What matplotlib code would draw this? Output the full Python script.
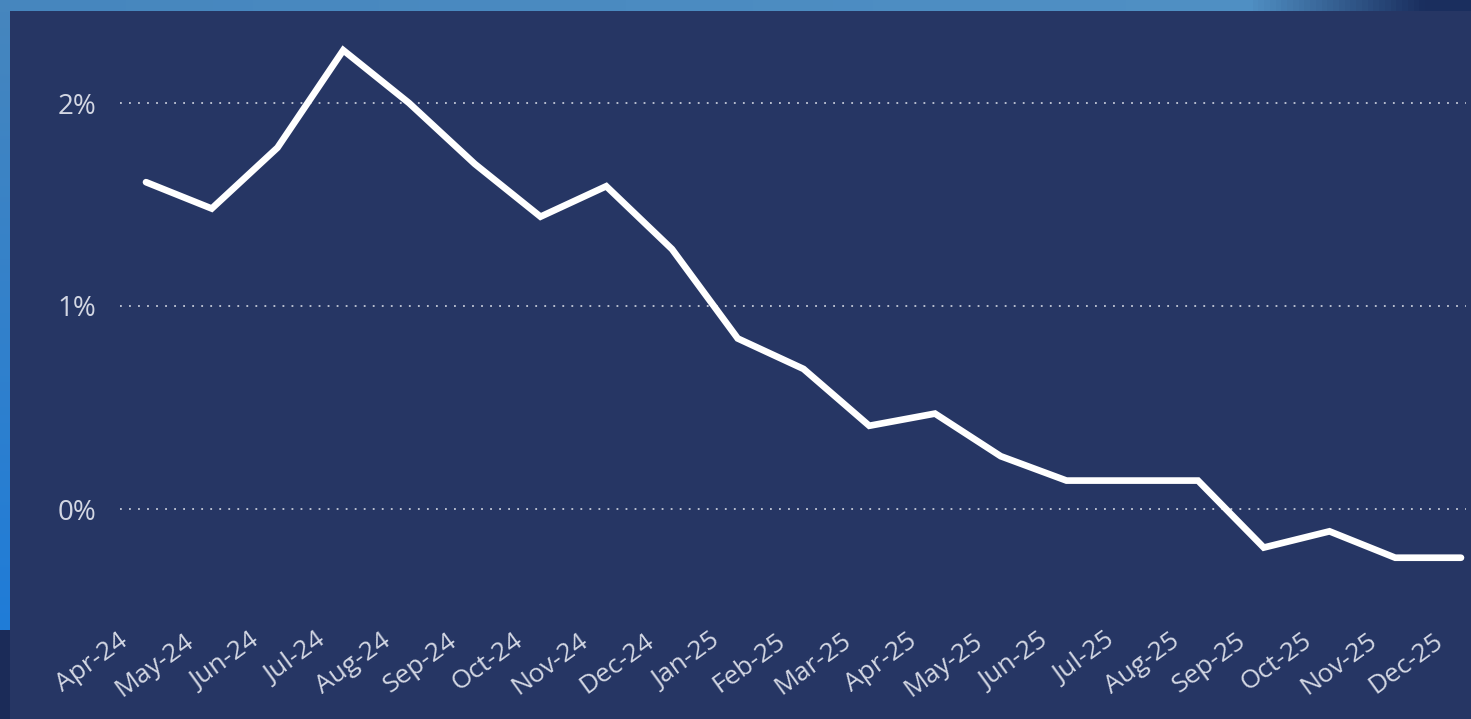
import matplotlib
matplotlib.use("agg")
import matplotlib.pyplot as plt
import matplotlib.transforms as mtransforms
import numpy as np

# monthly values (%)
months = ["Apr-24", "May-24", "Jun-24", "Jul-24", "Aug-24", "Sep-24", "Oct-24",
          "Nov-24", "Dec-24", "Jan-25", "Feb-25", "Mar-25", "Apr-25", "May-25",
          "Jun-25", "Jul-25", "Aug-25", "Sep-25", "Oct-25", "Nov-25", "Dec-25"]
values = [1.61, 1.48, 1.78, 2.26, 2.00, 1.70, 1.44, 1.59, 1.28, 0.84, 0.69,
          0.41, 0.47, 0.26, 0.14, 0.14, 0.14, -0.19, -0.11, -0.24, -0.24]
ytick_vals = [0, 1, 2]
ytick_labels = ["0%", "1%", "2%"]

W, H = 1471, 719
dpi = 100
panel = "#263664"
txt = "#d3d7e3"

fig = plt.figure(figsize=(W / dpi, H / dpi), dpi=dpi)
fig.patch.set_facecolor(panel)

# background strips (top and left) with gradients
bg = fig.add_axes([0, 0, 1, 1], zorder=-1)
bg.set_xlim(0, W)
bg.set_ylim(H, 0)
bg.axis("off")
top = np.zeros((1, 256, 3))
c1 = np.array([0x46, 0x86, 0xbe]) / 255
c2 = np.array([0x50, 0x90, 0xc4]) / 255
c3 = np.array([0x1a, 0x2e, 0x5e]) / 255
t = np.linspace(0, 1, 256)
for i, tv in enumerate(t):
    if tv < 0.85:
        top[0, i] = c1 + (c2 - c1) * tv / 0.85
    else:
        top[0, i] = c2 + (c3 - c2) * min((tv - 0.85) / 0.12, 1)
bg.imshow(top, extent=[0, W, 11, 0], aspect="auto")
left = np.zeros((256, 1, 3))
l1 = np.array([0x46, 0x86, 0xbe]) / 255
l2 = np.array([0x1f, 0x7c, 0xd8]) / 255
for i, tv in enumerate(np.linspace(0, 1, 256)):
    left[i, 0] = l1 + (l2 - l1) * tv
bg.imshow(left, extent=[0, 10, 630, 11], aspect="auto")
bg.add_patch(plt.Rectangle((0, 630), 10, H - 630, color="#1b2b58", lw=0))
bg.add_patch(plt.Rectangle((10, 11), W - 10, H - 11, color=panel, lw=0))

# main axes: left 120px, right 1466px, top 11px, bottom 570px
ax_l, ax_r, ax_t, ax_b = 120, 1466, 11, 570
ax = fig.add_axes([ax_l / W, 1 - ax_b / H, (ax_r - ax_l) / W, (ax_b - ax_t) / H])
ax.set_facecolor("none")

x = np.arange(len(months))
ax.plot(x, values, color="white", lw=4.8, solid_joinstyle="miter",
        solid_capstyle="round", zorder=3)

px_per = 65.75
ax.set_xlim(-(146 - ax_l) / px_per, 20 + (ax_r - 1461) / px_per)
px_pct = 203.0
ax.set_ylim((509 - ax_b) / px_pct, (509 - ax_t) / px_pct)

ax.set_yticks(ytick_vals)
ax.set_yticklabels(ytick_labels)
ax.grid(axis="y", color="#c5cad8", linestyle=(0, (1, 4)), lw=1.3)
ax.set_axisbelow(True)

ax.set_xticks(x)
ax.set_xticklabels(months)
for s in ax.spines.values():
    s.set_visible(False)
ax.tick_params(length=0, colors=txt)
ax.tick_params(axis="y", pad=17, labelsize=20)
ax.tick_params(axis="x", pad=42, labelsize=19)

offset = mtransforms.ScaledTranslation(-28 / dpi, 0, fig.dpi_scale_trans)
for lab in ax.get_xticklabels():
    lab.set_rotation(36)
    lab.set_ha("right")
    lab.set_va("top")
    lab.set_rotation_mode("anchor")
    lab.set_transform(lab.get_transform() + offset)
for lab in ax.get_xticklabels() + ax.get_yticklabels():
    lab.set_fontfamily("Open Sans")
    lab.set_color(txt)

fig.savefig("out.png", dpi=dpi, facecolor=fig.get_facecolor())
